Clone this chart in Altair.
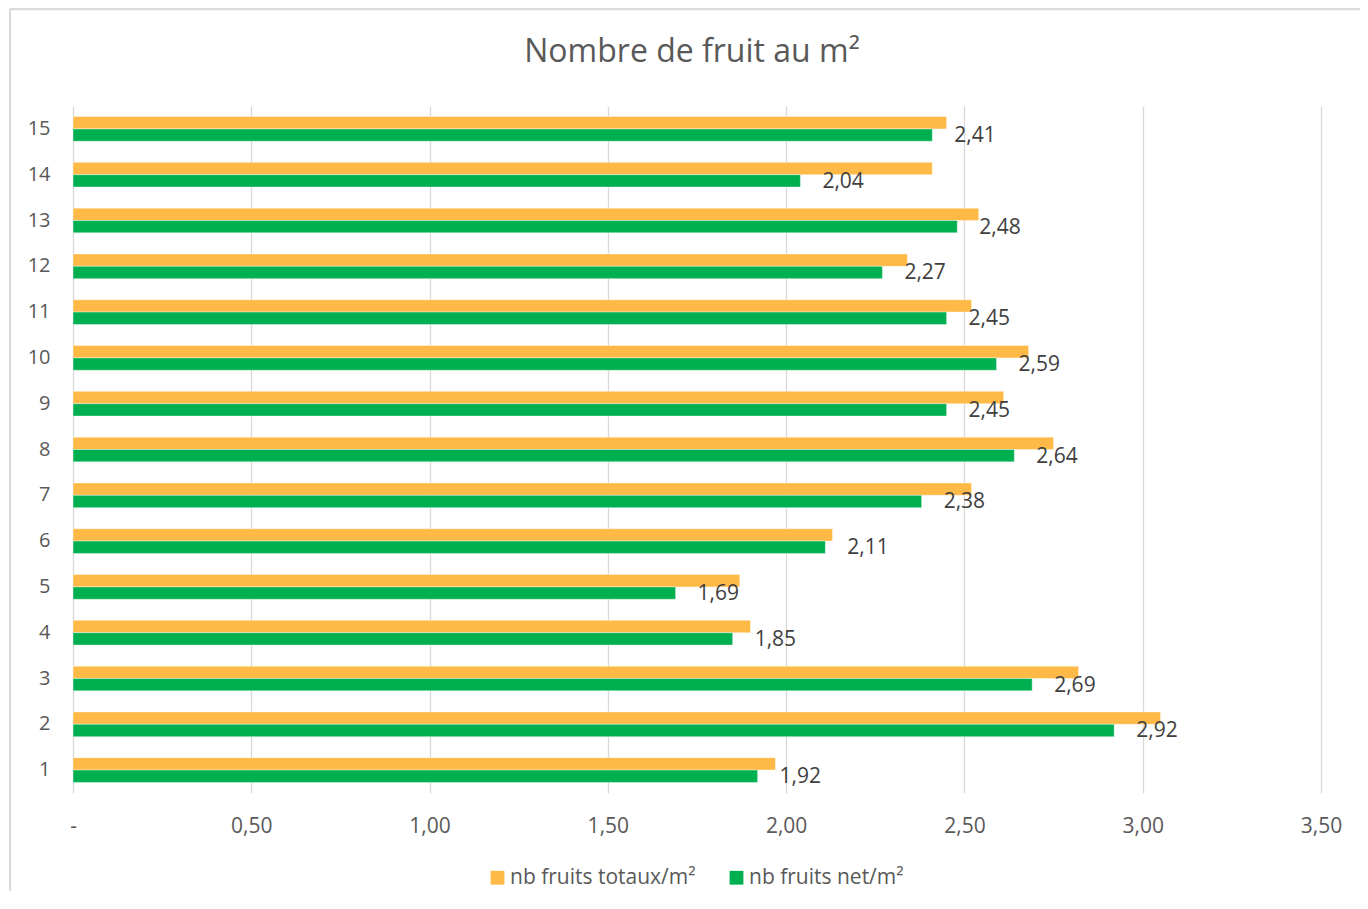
import altair as alt
import pandas as pd

categories = [str(i) for i in range(1, 16)]
totaux = [1.97, 3.05, 2.82, 1.90, 1.87, 2.13, 2.52, 2.75, 2.61, 2.68, 2.52, 2.34, 2.54, 2.41, 2.45]
net = [1.92, 2.92, 2.69, 1.85, 1.69, 2.11, 2.38, 2.64, 2.45, 2.59, 2.45, 2.27, 2.48, 2.04, 2.41]
series_names = ["nb fruits totaux/m²", "nb fruits net/m²"]
colors = ["#FFB946", "#00B050"]
tick_values = [0, 0.5, 1.0, 1.5, 2.0, 2.5, 3.0, 3.5]
title_text = "Nombre de fruit au m²"

rows = []
for c, t, n in zip(categories, totaux, net):
    rows.append({"cat": c, "serie": series_names[0], "val": t})
    rows.append({"cat": c, "serie": series_names[1], "val": n})
df = pd.DataFrame(rows)

FONT = "Open Sans"
GREY = "#595959"

y_enc = alt.Y(
    "cat:N",
    sort=categories[::-1],
    scale=alt.Scale(paddingInner=0.46, paddingOuter=0.23),
    axis=alt.Axis(domain=False, ticks=False, grid=False, labelFontSize=20,
                  labelColor=GREY, labelFont=FONT, labelPadding=23),
    title=None,
)
yoff_enc = alt.YOffset("serie:N", sort=series_names,
                       scale=alt.Scale(paddingInner=0, paddingOuter=0))
x_enc = alt.X(
    "val:Q",
    stack=None,
    scale=alt.Scale(domain=[0, 3.5], nice=False, zero=True),
    axis=alt.Axis(values=tick_values,
                  labelExpr="datum.value == 0 ? '-' : replace(format(datum.value, '.2f'), '.', ',')",
                  grid=True, gridColor="#d9d9d9", gridWidth=1.3, domain=False, ticks=False,
                  labelFlush=False, labelFontSize=21, labelColor=GREY, labelFont=FONT,
                  labelPadding=22),
    title=None,
)

bars = alt.Chart(df).mark_bar(stroke="white", strokeWidth=0.8, strokeOpacity=0.5).encode(
    y=y_enc,
    yOffset=yoff_enc,
    x=x_enc,
    color=alt.Color(
        "serie:N",
        scale=alt.Scale(domain=series_names, range=colors),
        legend=alt.Legend(orient="none", legendX=414, legendY=761, direction="horizontal",
                          title=None, symbolType="square", symbolSize=190, symbolStrokeWidth=0,
                          labelFontSize=21, labelColor=GREY, labelFont=FONT, labelOffset=2,
                          labelLimit=400, columnPadding=30, padding=0),
    ),
)

labels = alt.Chart(df).transform_filter(
    alt.datum.serie == series_names[1]
).transform_calculate(
    lbl="replace(format(datum.val, '.2f'), '.', ',')"
).mark_text(align="left", baseline="middle", dx=22, dy=1, fontSize=21,
            color="#404040", font=FONT).encode(
    y=y_enc,
    yOffset=yoff_enc,
    x=x_enc,
    text="lbl:N",
)

frame_df = pd.DataFrame({"t": [title_text]})
top_line = alt.Chart(frame_df).mark_rule(color="#d9d9d9", strokeWidth=2.5).encode(
    x=alt.value(-63), x2=alt.value(1300), y=alt.value(-97)
)
left_line = alt.Chart(frame_df).mark_rule(color="#d9d9d9", strokeWidth=2).encode(
    x=alt.value(-63), y=alt.value(-97), y2=alt.value(800)
)
title_mark = alt.Chart(frame_df).mark_text(
    align="center", baseline="alphabetic", fontSize=32, font=FONT, color=GREY
).encode(x=alt.value(619), y=alt.value(-44), text="t:N")

chart = alt.layer(top_line, left_line, title_mark, bars, labels).properties(
    width=1248,
    height=687,
    background="white",
    autosize=alt.AutoSizeParams(type="none"),
    padding={"left": 65, "top": 98, "right": 39, "bottom": 98},
).configure_view(stroke=None)

chart.save("out.html", embed_options={"renderer": "svg", "actions": False})
